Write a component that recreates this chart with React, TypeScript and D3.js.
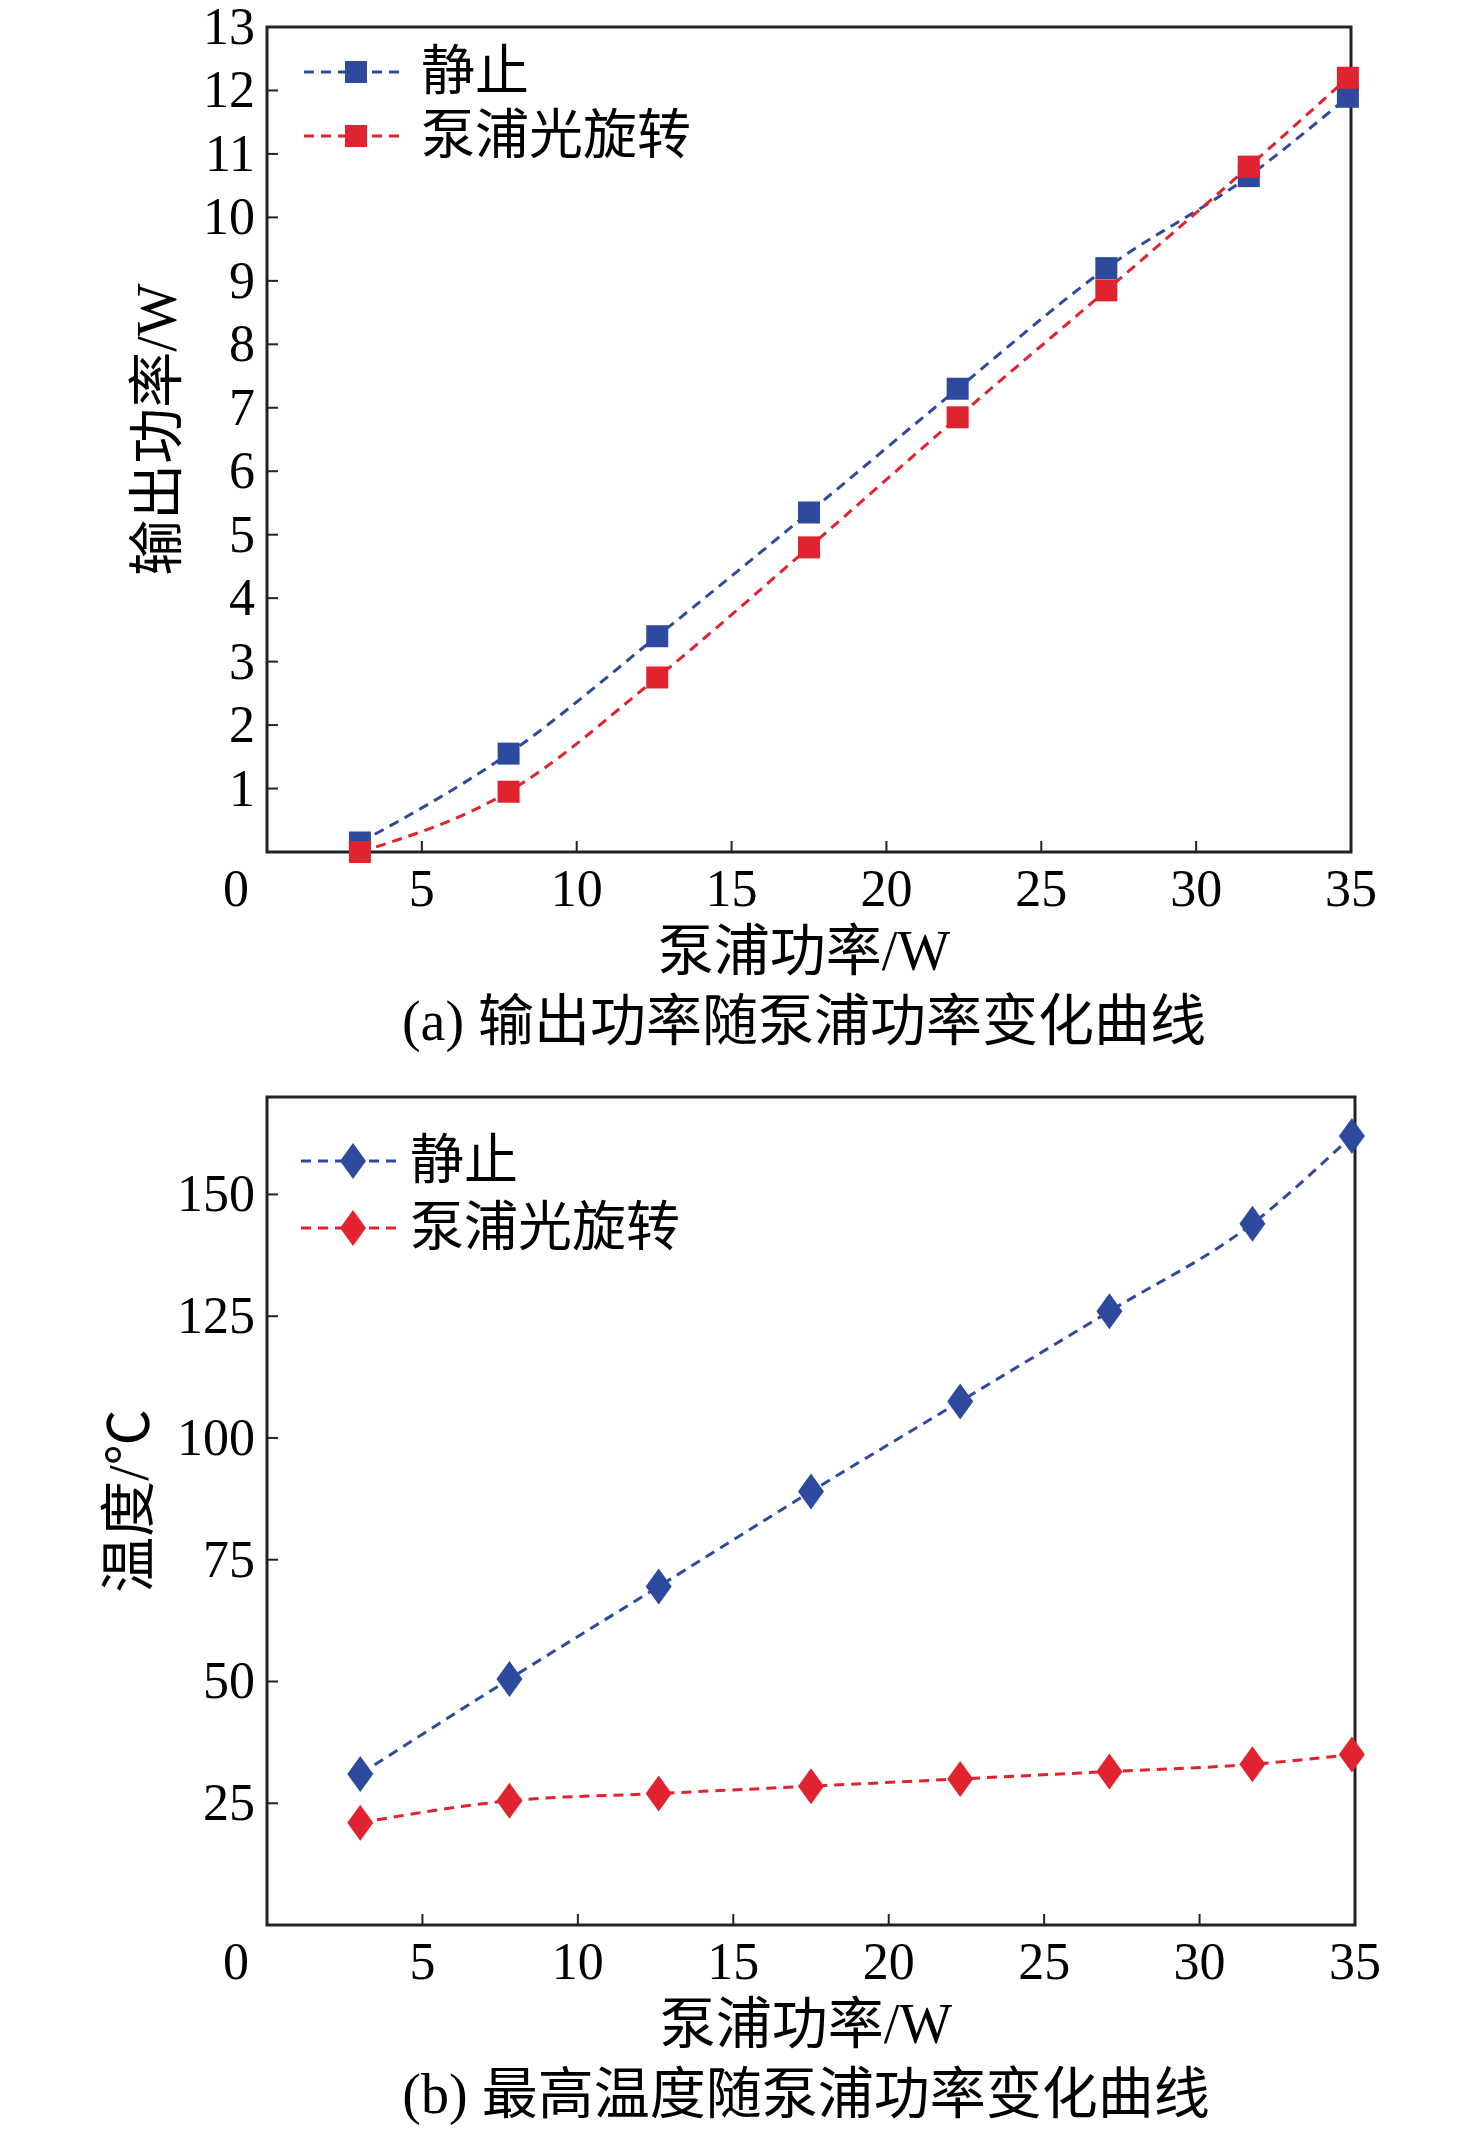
import { useEffect, useRef } from "react";
import * as d3 from "d3";

const pump = [3, 7.8, 12.6, 17.5, 22.3, 27.1, 31.7, 34.9];
const outStatic = [0.15, 1.55, 3.4, 5.35, 7.3, 9.2, 10.65, 11.9];
const outRotate = [0.0, 0.95, 2.75, 4.8, 6.85, 8.85, 10.8, 12.2];
const tempStatic = [31, 50.5, 69.5, 89, 107.5, 126, 144, 162];
const tempRotate = [21, 25.5, 27, 28.5, 30, 31.5, 33, 35];
const xTicks = [5, 10, 15, 20, 25, 30, 35];
const yTicksA = [1, 2, 3, 4, 5, 6, 7, 8, 9, 10, 11, 12, 13];
const yTicksB = [25, 50, 75, 100, 125, 150];
const seriesNames = ["静止", "泵浦光旋转"];

const BLUE = "#2e4a9e";
const RED = "#e0232e";
const FONT = "'Liberation Serif', 'Noto Sans CJK SC', serif";

const App = () => {
  const svgRef = useRef<SVGSVGElement | null>(null);

  useEffect(() => {
    const svg = d3.select(svgRef.current);
    svg.selectAll("*").remove();

    const drawPanel = (opts: {
      top: number;
      bottom: number;
      right: number;
      yMax: number;
      yTicks: number[];
      s1: number[];
      s2: number[];
      marker: "square" | "diamond";
      yTitle: string;
      yTitleX: number;
      caption: string;
      legendX: number;
      legendY: number[];
      textX: number;
    }) => {
      const left = 267;
      const x = d3.scaleLinear().domain([0, 35]).range([left, opts.right]);
      const y = d3.scaleLinear().domain([0, opts.yMax]).range([opts.bottom, opts.top]);
      const g = svg.append("g").attr("font-family", FONT);

      g.append("rect")
        .attr("x", left).attr("y", opts.top)
        .attr("width", opts.right - left).attr("height", opts.bottom - opts.top)
        .attr("fill", "none").attr("stroke", "#222").attr("stroke-width", 3);

      xTicks.forEach((t) => {
        g.append("line")
          .attr("x1", x(t)).attr("x2", x(t))
          .attr("y1", opts.bottom).attr("y2", opts.bottom - 11)
          .attr("stroke", "#222").attr("stroke-width", 2);
        g.append("text").attr("x", x(t)).attr("y", opts.bottom + 54)
          .attr("text-anchor", "middle").attr("font-size", 52).text(t);
      });
      g.append("text").attr("x", 236).attr("y", opts.bottom + 54)
        .attr("text-anchor", "middle").attr("font-size", 52).text("0");

      opts.yTicks.forEach((t) => {
        g.append("line")
          .attr("x1", left).attr("x2", left + 11)
          .attr("y1", y(t)).attr("y2", y(t))
          .attr("stroke", "#222").attr("stroke-width", 2);
        g.append("text").attr("x", left - 12).attr("y", y(t) + 17)
          .attr("text-anchor", "end").attr("font-size", 52).text(t);
      });

      g.append("text").attr("x", (left + opts.right) / 2 - 5).attr("y", opts.bottom + 118)
        .attr("text-anchor", "middle").attr("font-size", 56).text("泵浦功率/W");
      g.append("text").attr("x", (left + opts.right) / 2 - 5).attr("y", opts.bottom + 188)
        .attr("text-anchor", "middle").attr("font-size", 56).text(opts.caption);
      const cy = (opts.top + opts.bottom) / 2 - 10;
      g.append("text")
        .attr("transform", `translate(${opts.yTitleX},${cy}) rotate(-90)`)
        .attr("text-anchor", "middle").attr("font-size", 56).text(opts.yTitle);

      const line = d3.line<number>()
        .x((_, i) => x(pump[i]))
        .y((d) => y(d))
        .curve(d3.curveMonotoneX);

      const drawMarker = (cx: number, cyy: number, color: string) => {
        if (opts.marker === "square") {
          g.append("rect").attr("x", cx - 11).attr("y", cyy - 11)
            .attr("width", 22).attr("height", 22).attr("fill", color);
        } else {
          g.append("path")
            .attr("d", `M${cx},${cyy - 18}L${cx + 13},${cyy}L${cx},${cyy + 18}L${cx - 13},${cyy}Z`)
            .attr("fill", color);
        }
      };

      [[opts.s1, BLUE], [opts.s2, RED]].forEach(([vals, color]) => {
        g.append("path").datum(vals as number[])
          .attr("d", line).attr("fill", "none")
          .attr("stroke", color as string).attr("stroke-width", 3)
          .attr("stroke-dasharray", "10,7");
        (vals as number[]).forEach((v, i) => drawMarker(x(pump[i]), y(v), color as string));
      });

      [BLUE, RED].forEach((color, i) => {
        const ly = opts.legendY[i];
        g.append("line").attr("x1", opts.legendX).attr("x2", opts.legendX + 96)
          .attr("y1", ly).attr("y2", ly)
          .attr("stroke", color).attr("stroke-width", 3).attr("stroke-dasharray", "10,7");
        drawMarker(opts.legendX + 52, ly, color);
        g.append("text").attr("x", opts.textX).attr("y", ly + 18)
          .attr("font-size", 54).text(seriesNames[i]);
      });
    };

    drawPanel({
      top: 27, bottom: 852, right: 1351, yMax: 13, yTicks: yTicksA,
      s1: outStatic, s2: outRotate, marker: "square",
      yTitle: "输出功率/W", yTitleX: 176,
      caption: "(a) 输出功率随泵浦功率变化曲线",
      legendX: 304, legendY: [72, 136], textX: 421,
    });
    drawPanel({
      top: 1097, bottom: 1925, right: 1355, yMax: 170, yTicks: yTicksB,
      s1: tempStatic, s2: tempRotate, marker: "diamond",
      yTitle: "温度/℃", yTitleX: 148,
      caption: "(b) 最高温度随泵浦功率变化曲线",
      legendX: 301, legendY: [1161, 1228], textX: 410,
    });
  }, []);

  return (
    <svg
      ref={svgRef}
      width={1476}
      height={2132}
      style={{ position: "absolute", left: 0, top: 0, background: "#fff" }}
    />
  );
};

export default App;
